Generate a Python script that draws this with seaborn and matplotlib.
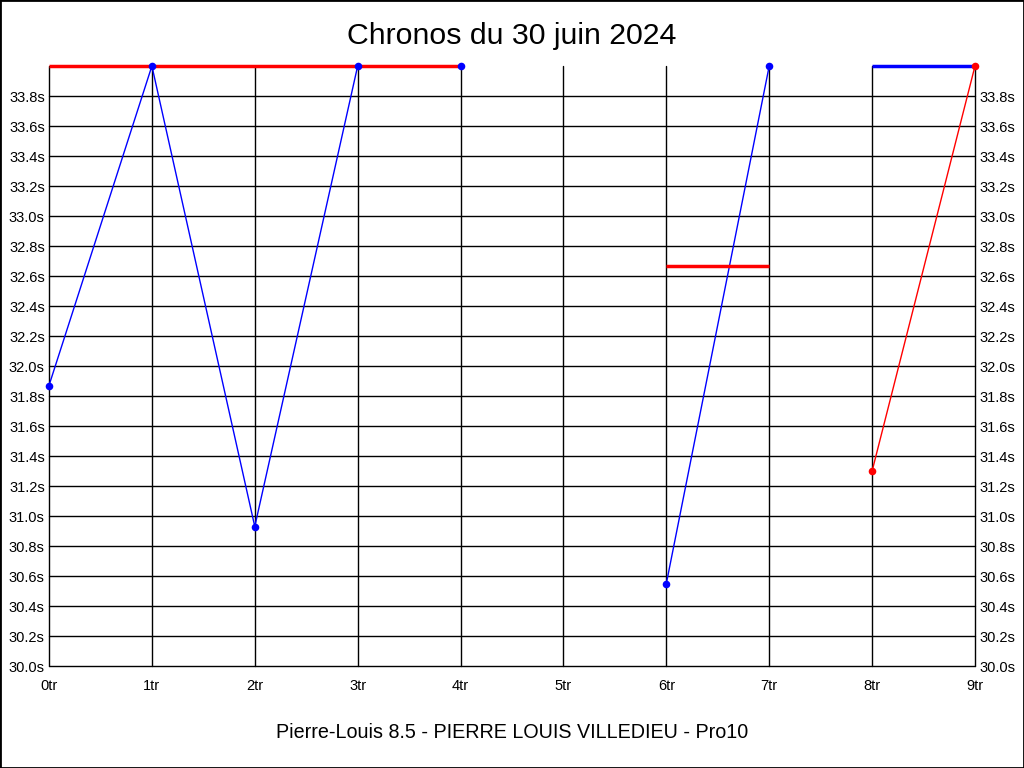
import matplotlib
matplotlib.use('Agg')
import matplotlib.pyplot as plt
import seaborn as sns
import pandas as pd
from matplotlib.patches import Rectangle

# chronos par tour (valeurs hors echelle ramenees a 34.0)
laps_a = [0, 1, 2, 3, 4]
times_a = [31.87, 34.0, 30.93, 34.0, 34.0]
laps_b = [6, 7]
times_b = [30.55, 34.0]
laps_c = [8, 9]
times_c = [31.30, 34.0]

# moyennes par serie (traits horizontaux)
avg_start = [0, 6, 8]
avg_end = [4, 7, 9]
avg_value = [34.0, 32.67, 34.0]
avg_color = ['#ff0000', '#ff0000', '#0000ff']

x_ticks = list(range(10))
y_ticks = [round(30.0 + 0.2 * i, 1) for i in range(20)]

sns.set_theme(style='white', rc={'text.color': 'black', 'xtick.color': 'black',
                                 'ytick.color': 'black'})
plt.rcParams['font.family'] = ['Liberation Sans', 'DejaVu Sans']

fig = plt.figure(figsize=(10.24, 7.68), dpi=100)
ax = fig.add_axes([49 / 1024, 1 - 666 / 768, 926 / 1024, 600 / 768])

# grille
for y in y_ticks:
    ax.axhline(y, color='black', lw=1, zorder=1, clip_on=False)
for x in x_ticks:
    ax.axvline(x, color='black', lw=1, zorder=1, clip_on=False)

# moyennes
for s, e, v, c in zip(avg_start, avg_end, avg_value, avg_color):
    ax.plot([s, e], [v, v], color=c, lw=2.5, zorder=5, clip_on=False,
            solid_capstyle='butt')

df_blue = pd.DataFrame({
    'tour': laps_a + laps_b,
    'temps': times_a + times_b,
    'serie': [0] * len(laps_a) + [1] * len(laps_b),
})
df_red = pd.DataFrame({'tour': laps_c, 'temps': times_c, 'serie': [2] * len(laps_c)})

for df, col in [(df_blue, '#0000ff'), (df_red, '#ff0000')]:
    sns.lineplot(data=df, x='tour', y='temps', units='serie', estimator=None,
                 color=col, lw=1, ax=ax, zorder=4, clip_on=False, legend=False)
    sns.scatterplot(data=df, x='tour', y='temps', color=col, s=30, linewidth=0,
                    ax=ax, zorder=6, clip_on=False, legend=False)

ax.set_xlim(0, 9)
ax.set_ylim(30.0, 34.0)
ax.set_xticks(x_ticks)
ax.set_xticklabels([f'{x}tr' for x in x_ticks], fontsize=10.5)
ax.set_yticks(y_ticks)
ax.set_yticklabels([f'{y:.1f}s' for y in y_ticks], fontsize=10.5)
ax.tick_params(axis='x', length=0, pad=9)
ax.tick_params(axis='y', length=0, pad=3, labelright=True, right=False)
ax.set_xlabel('')
ax.set_ylabel('')
for side in ['top', 'right', 'left', 'bottom']:
    ax.spines[side].set_visible(False)
ax.set_facecolor('white')

fig.text(0.5, 1 - 36 / 768, 'Chronos du 30 juin 2024', ha='center', va='center', fontsize=21.8)
fig.text(0.5, 1 - 733 / 768, 'Pierre-Louis 8.5 - PIERRE LOUIS VILLEDIEU - Pro10',
         ha='center', va='center', fontsize=14.2)

fig.patches.append(Rectangle((0, 0), 1, 1, transform=fig.transFigure, fill=False,
                             edgecolor='black', lw=2))

fig.savefig('out.png', dpi=100)
plt.close()
